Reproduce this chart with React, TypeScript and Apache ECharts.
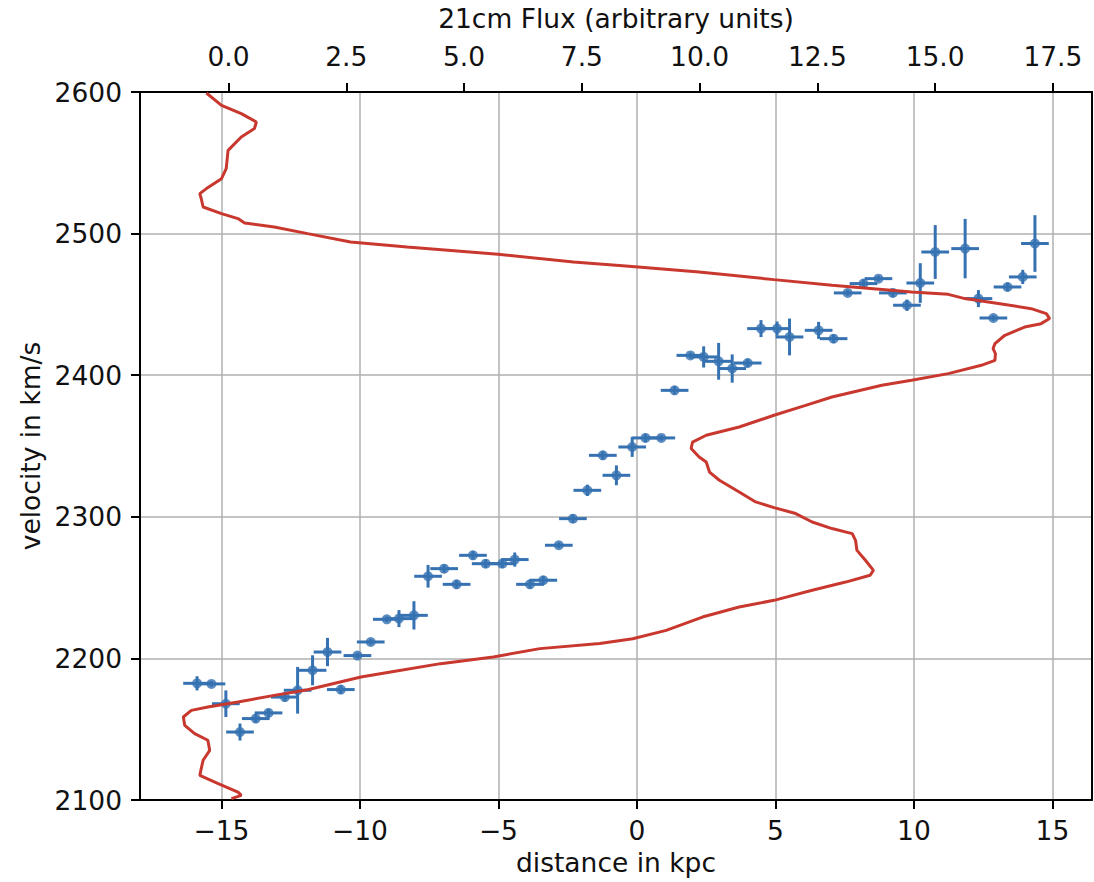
import React, { useEffect, useRef } from "react";
import * as echarts from "echarts";

// Tick values
const distTicks = [-15, -10, -5, 0, 5, 10, 15];
const fluxTicks = [0, 2.5, 5, 7.5, 10, 12.5, 15, 17.5];
const velTicks = [2100, 2200, 2300, 2400, 2500, 2600];

// Rotation-curve measurements (distance in kpc, velocity in km/s)
const distKpc = [
  -15.88, -15.36, -14.84, -14.33, -13.76, -13.3, -12.71, -12.25, -11.71, -11.17,
  -10.69, -10.09, -9.61, -9.03, -8.59, -8.05, -7.54, -6.96, -6.51, -5.92,
  -5.46, -4.86, -4.41, -3.86, -3.38, -2.82, -2.31, -1.79, -1.23, -0.74,
  -0.17, 0.31, 0.88, 1.36, 1.93, 2.41, 2.95, 3.44, 4.0, 4.48,
  5.06, 5.51, 6.56, 7.1, 7.61, 8.18, 8.72, 9.24, 9.75, 10.23,
  10.77, 11.85, 12.33, 12.87, 13.38, 13.93, 14.37,
];
const velocity = [
  2182.4, 2182, 2168, 2148, 2157.5, 2161.5, 2172.7, 2177.5, 2191.6, 2204.5,
  2178, 2202, 2211.6, 2227.6, 2228.1, 2230.4, 2258, 2263.4, 2252.3, 2272.8,
  2266.9, 2266.9, 2269.8, 2252.3, 2255.2, 2279.9, 2298.7, 2318.7, 2343.4, 2329.3,
  2349.3, 2355.7, 2355.7, 2389.3, 2414, 2412.9, 2409.8, 2404.7, 2408.6, 2432.9,
  2432.9, 2427, 2431.7, 2425.8, 2458.1, 2464.7, 2468.2, 2458.1, 2449.4, 2465.1,
  2487, 2489.4, 2454.1, 2440.4, 2462.3, 2469.4, 2493,
];
const distErr = [
  0.5, 0.5, 0.5, 0.5, 0.5, 0.5, 0.5, 0.5, 0.5, 0.5,
  0.5, 0.5, 0.5, 0.5, 0.5, 0.5, 0.5, 0.5, 0.5, 0.5,
  0.5, 0.5, 0.5, 0.5, 0.5, 0.5, 0.5, 0.5, 0.5, 0.5,
  0.5, 0.5, 0.5, 0.5, 0.5, 0.5, 0.5, 0.5, 0.5, 0.5,
  0.5, 0.5, 0.5, 0.5, 0.5, 0.5, 0.5, 0.5, 0.5, 0.5,
  0.5, 0.5, 0.5, 0.5, 0.5, 0.5, 0.5,
];
const velErr = [
  5, 2, 9.4, 6, 3, 3, 3, 16.5, 10.6, 10,
  3, 2, 2, 2, 6, 10, 8, 3, 3, 3,
  3, 3, 5, 3, 3, 2, 3, 4, 3, 7,
  7, 3, 2, 3, 2, 7.5, 13, 10, 3, 6,
  5, 13, 6, 3, 2, 3, 2, 3, 4, 14,
  19, 21, 6, 2, 3, 5, 20,
];

// 21cm line profile (flux, velocity)
const fluxValues = [
  -0.47, -0.15, 0.27, 0.59, 0.55, 0.27, -0.01, -0.05, -0.15, -0.47,
  -0.61, -0.58, -0.54, -0.15, 0.2, 0.34, 0.97, 1.68, 2.59, 3.79,
  5.72, 7.32, 8.5, 9.99, 11.58, 12.81, 14.5, 15.28, 15.63, 16.34,
  17.04, 17.36, 17.43, 17.25, 16.9, 16.48, 16.27, 16.23, 16.28, 16.27,
  15.98, 15.28, 14.5, 13.87, 12.81, 12.25, 11.58, 10.84, 10.14, 9.85,
  9.82, 9.99, 10.14, 10.21, 10.42, 10.84, 11.19, 11.58, 12.04, 12.39,
  12.81, 13.24, 13.31, 13.34, 13.52, 13.69, 13.62, 13.1, 12.39, 11.58,
  10.84, 10.06, 9.29, 8.58, 7.88, 6.61, 5.62, 4.5, 3.44, 2.81,
  1.68, 0.97, 0.2, -0.44, -0.79, -0.96, -0.93, -0.72, -0.44, -0.4,
  -0.54, -0.58, -0.61, -0.22, 0.2, 0.27, 0.06,
];
const fluxVelocity = [
  2599.3, 2590.6, 2584.7, 2578.8, 2574.2, 2568.2, 2558.8, 2545.9, 2538.8, 2531.8,
  2528.2, 2524.7, 2518.8, 2514.1, 2510.6, 2507.5, 2504.7, 2500.0, 2494.1, 2490.5,
  2485.4, 2479.9, 2477.0, 2472.9, 2467.5, 2463.5, 2458.8, 2457.1, 2454.1, 2450.6,
  2447.0, 2443.5, 2440.0, 2436.4, 2434.0, 2428.2, 2422.3, 2418.8, 2415.3, 2410.5,
  2407.0, 2401.1, 2396.4, 2392.9, 2384.6, 2378.7, 2371.7, 2363.4, 2357.6, 2352.8,
  2348.2, 2342.2, 2338.7, 2331.6, 2325.8, 2317.5, 2310.5, 2306.5, 2302.3, 2296.3,
  2291.7, 2288.1, 2283.4, 2276.3, 2269.3, 2262.2, 2258.7, 2253.9, 2248.1, 2241.0,
  2236.3, 2229.2, 2219.8, 2213.9, 2210.5, 2206.9, 2201.0, 2196.3, 2190.4, 2186.9,
  2177.9, 2173.9, 2169.2, 2165.7, 2163.3, 2158.6, 2152.7, 2146.9, 2142.2, 2135.1,
  2128.1, 2122.2, 2117.4, 2111.6, 2105.6, 2103.3, 2101.0,
];

const FONT = "DejaVu Sans";
const BLUE = "#3672b2";
const RED = "#c9382f";
const GRID = "#b0b0b0";

export default function App() {
  const ref = useRef<HTMLDivElement>(null);
  useEffect(() => {
    const chart = echarts.init(ref.current as HTMLDivElement, null, { renderer: "svg" });
    const points = distKpc.map((d, i) => [d, velocity[i], distErr[i], velErr[i]]);
    const markers = distKpc.map((d, i) => [d, velocity[i]]);
    const curve = fluxValues.map((f, i) => [f, fluxVelocity[i]]);
    const minus = (v: number) => String(v).replace("-", "\u2212");
    const txt = { fontFamily: FONT, fontSize: 26.5, color: "#111" };
    const spine = { show: true, onZero: false, lineStyle: { color: "#000", width: 2 } };
    chart.setOption({
      animation: false,
      backgroundColor: "#fff",
      grid: { left: 140, right: 2, top: 92, bottom: 82, containLabel: false },
      xAxis: [
        {
          type: "value",
          position: "bottom",
          min: -17.94,
          max: 16.43,
          name: "distance in kpc",
          nameLocation: "middle",
          nameGap: 48,
          nameTextStyle: txt,
          axisLine: spine,
          axisTick: { show: true, length: 9, customValues: distTicks, lineStyle: { color: "#000", width: 2 } },
          axisLabel: { customValues: distTicks, formatter: minus, margin: 17, ...txt },
          splitLine: { show: true, lineStyle: { color: GRID, width: 1.5 } },
        },
        {
          type: "value",
          position: "top",
          min: -1.88,
          max: 18.33,
          name: "21cm Flux (arbitrary units)",
          nameLocation: "middle",
          nameGap: 60,
          nameTextStyle: txt,
          axisLine: spine,
          axisTick: { show: true, length: 9, customValues: fluxTicks, lineStyle: { color: "#000", width: 2 } },
          axisLabel: { customValues: fluxTicks, formatter: (v: number) => v.toFixed(1), margin: 22, ...txt },
          splitLine: { show: false },
        },
      ],
      yAxis: [
        {
          type: "value",
          position: "left",
          min: 2100,
          max: 2600,
          interval: 100,
          name: "velocity in km/s",
          nameLocation: "middle",
          nameGap: 96,
          nameRotate: 90,
          nameTextStyle: txt,
          axisLine: spine,
          axisTick: { show: true, length: 9, customValues: velTicks, lineStyle: { color: "#000", width: 2 } },
          axisLabel: { customValues: velTicks, formatter: (v: number) => String(v), margin: 18, ...txt },
          splitLine: { show: true, lineStyle: { color: GRID, width: 1.5 } },
        },
        {
          type: "value",
          position: "right",
          min: 2100,
          max: 2600,
          interval: 100,
          axisLine: spine,
          axisTick: { show: false },
          axisLabel: { show: false },
          splitLine: { show: false },
        },
      ],
      series: [
        {
          type: "custom",
          xAxisIndex: 0,
          yAxisIndex: 0,
          data: points,
          encode: { x: 0, y: 1 },
          z: 2,
          renderItem: (params: any, api: any) => {
            const x = api.value(0);
            const y = api.value(1);
            const xe = api.value(2);
            const ye = api.value(3);
            const l = api.coord([x - xe, y]);
            const r = api.coord([x + xe, y]);
            const b = api.coord([x, y - ye]);
            const t = api.coord([x, y + ye]);
            const style = { stroke: BLUE, lineWidth: 3 };
            return {
              type: "group",
              children: [
                { type: "line", shape: { x1: l[0], y1: l[1], x2: r[0], y2: r[1] }, style },
                { type: "line", shape: { x1: b[0], y1: b[1], x2: t[0], y2: t[1] }, style },
              ],
            };
          },
        },
        {
          type: "scatter",
          xAxisIndex: 0,
          yAxisIndex: 0,
          data: markers,
          symbol: "circle",
          symbolSize: 10,
          itemStyle: { color: BLUE },
          z: 3,
        },
        {
          type: "line",
          xAxisIndex: 1,
          yAxisIndex: 0,
          data: curve,
          showSymbol: false,
          symbol: "none",
          lineStyle: { color: RED, width: 3 },
          z: 4,
        },
      ],
    });
    return () => chart.dispose();
  }, []);
  return (
    <div
      ref={ref}
      style={{ position: "absolute", left: 0, top: 0, width: 1094, height: 882 }}
    />
  );
}
